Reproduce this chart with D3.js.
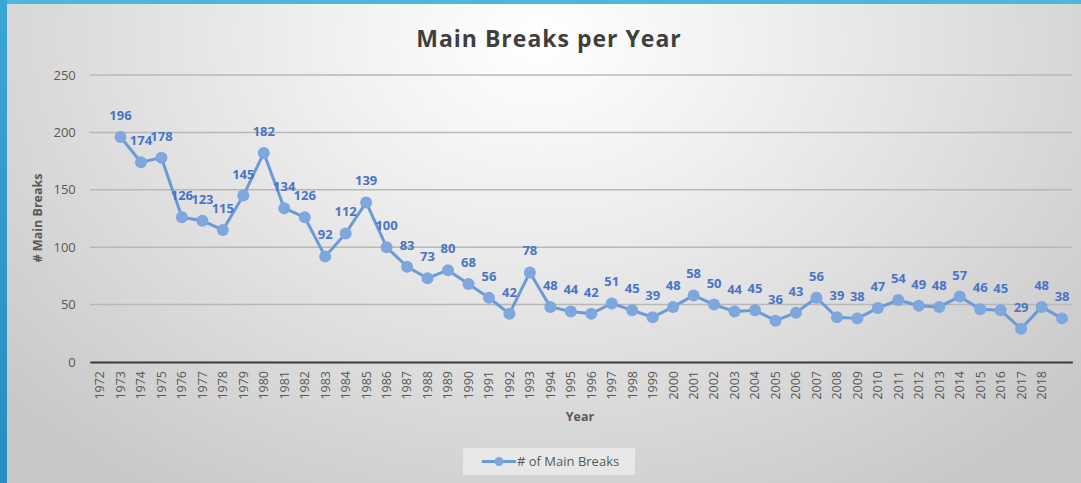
<!DOCTYPE html>
<html><head><meta charset="utf-8">
<script src="https://cdn.jsdelivr.net/npm/d3@7/dist/d3.min.js"></script>
<style>html,body{margin:0;padding:0;overflow:hidden;background:#fff}</style>
</head><body>
<svg id="c" width="1081" height="483"></svg>
<script>
const yearLabels = ["1972","1973","1974","1975","1976","1977","1978","1979","1980","1981","1982","1983","1984","1985","1986","1987","1988","1989","1990","1991","1992","1993","1994","1995","1996","1997","1998","1999","2000","2001","2002","2003","2004","2005","2006","2007","2008","2009","2010","2011","2012","2013","2014","2015","2016","2017","2018",""];
const mainBreaks = [null,196,174,178,126,123,115,145,182,134,126,92,112,139,100,83,73,80,68,56,42,78,48,44,42,51,45,39,48,58,50,44,45,36,43,56,39,38,47,54,49,48,57,46,45,29,48,38];
const yTicks = [0,50,100,150,200,250];

const svg = d3.select("#c");
const W = 1081, H = 483;
const defs = svg.append("defs");
const rg = defs.append("radialGradient").attr("id","bg")
  .attr("gradientUnits","userSpaceOnUse").attr("cx",540).attr("cy",40).attr("r",720)
  .attr("gradientTransform","translate(540,40) scale(1,0.75) translate(-540,-40)");
rg.append("stop").attr("offset","0").attr("stop-color","#ffffff");
rg.append("stop").attr("offset","0.3").attr("stop-color","#f0f0f0");
rg.append("stop").attr("offset","1").attr("stop-color","#c8c8c8");
const lg = defs.append("linearGradient").attr("id","side").attr("x1",0).attr("y1",0).attr("x2",0).attr("y2",1);
lg.append("stop").attr("offset","0").attr("stop-color","#3aa6d4");
lg.append("stop").attr("offset","1").attr("stop-color","#2a8cc0");

svg.append("rect").attr("width",W).attr("height",H).attr("fill","#4db6db");
svg.append("rect").attr("x",0).attr("y",0).attr("width",7).attr("height",H).attr("fill","url(#side)");
svg.append("rect").attr("x",7).attr("y",4).attr("width",W-7).attr("height",H-4).attr("fill","url(#bg)");

const m = {l:89.8, r:1072.3, t:75, b:362};
const x = d3.scaleBand().domain(d3.range(yearLabels.length)).range([m.l,m.r]);
const y = d3.scaleLinear().domain([0,250]).range([m.b,m.t]);
const cx = i => x(i) + x.bandwidth()/2;

// gridlines
svg.append("g").selectAll("line").data(yTicks.filter(d=>d>0)).join("line")
  .attr("x1",m.l).attr("x2",m.r).attr("y1",d=>y(d)).attr("y2",d=>y(d))
  .attr("stroke","#b8b8b8").attr("stroke-width",1.5);

// y axis
const yAxis = d3.axisLeft(y).tickValues(yTicks).tickSize(0).tickPadding(14);
const gy = svg.append("g").attr("transform",`translate(${m.l},0)`).call(yAxis);
gy.select(".domain").remove();
gy.selectAll("text").attr("font-family","Open Sans, sans-serif").attr("font-size",13).attr("fill","#595959");

// x axis
const xAxis = d3.axisBottom(x).tickFormat(i=>yearLabels[i]).tickSize(0).tickPadding(0);
const gx = svg.append("g").attr("transform",`translate(0,${m.b})`).call(xAxis);
gx.select(".domain").attr("stroke","#3a3a3a").attr("stroke-width",2.2);
gx.selectAll("text").attr("font-family","Open Sans, sans-serif").attr("font-size",12.5).attr("fill","#595959")
  .attr("transform","rotate(-90)").attr("text-anchor","end").attr("x",-9).attr("y",0).attr("dy","0.35em");

// line
const pts = mainBreaks.map((v,i)=>({v,i})).filter(d=>d.v!==null);
const line = d3.line().x(d=>cx(d.i)).y(d=>y(d.v));
svg.append("path").datum(pts).attr("d",line).attr("fill","none")
  .attr("stroke","#6b9bd6").attr("stroke-width",3).attr("stroke-linejoin","round");
svg.append("g").selectAll("circle").data(pts).join("circle")
  .attr("cx",d=>cx(d.i)).attr("cy",d=>y(d.v)).attr("r",6).attr("fill","#7ea7de");
svg.append("g").selectAll("text").data(pts).join("text")
  .attr("x",d=>cx(d.i)).attr("y",d=>y(d.v)-17).attr("text-anchor","middle")
  .attr("font-family","Open Sans, sans-serif").attr("font-weight","bold").attr("font-size",13)
  .attr("fill","#4a74c6").text(d=>d.v);

// title
svg.append("text").attr("x",549).attr("y",47).attr("text-anchor","middle")
  .attr("font-family","Open Sans, sans-serif").attr("font-weight","bold").attr("font-size",23)
  .attr("letter-spacing",1).attr("fill","#3f3f3f").text("Main Breaks per Year");

// axis titles
svg.append("text").attr("transform","translate(42,218) rotate(-90)").attr("text-anchor","middle")
  .attr("font-family","Open Sans, sans-serif").attr("font-weight","bold").attr("font-size",12.5)
  .attr("fill","#595959").text("# Main Breaks");
svg.append("text").attr("x",580).attr("y",421).attr("text-anchor","middle")
  .attr("font-family","Open Sans, sans-serif").attr("font-weight","bold").attr("font-size",12.5)
  .attr("fill","#595959").text("Year");

// legend
const lgG = svg.append("g");
lgG.append("rect").attr("x",463).attr("y",448).attr("width",172).attr("height",27).attr("fill","#ececec").attr("opacity",0.8);
lgG.append("line").attr("x1",482).attr("x2",516).attr("y1",461.5).attr("y2",461.5).attr("stroke","#6b9bd6").attr("stroke-width",3);
lgG.append("circle").attr("cx",499).attr("cy",461.5).attr("r",4.5).attr("fill","#7ea7de");
lgG.append("text").attr("x",517).attr("y",466).attr("font-family","Open Sans, sans-serif").attr("font-size",13)
  .attr("fill","#595959").text("# of Main Breaks");
</script>
</body></html>
